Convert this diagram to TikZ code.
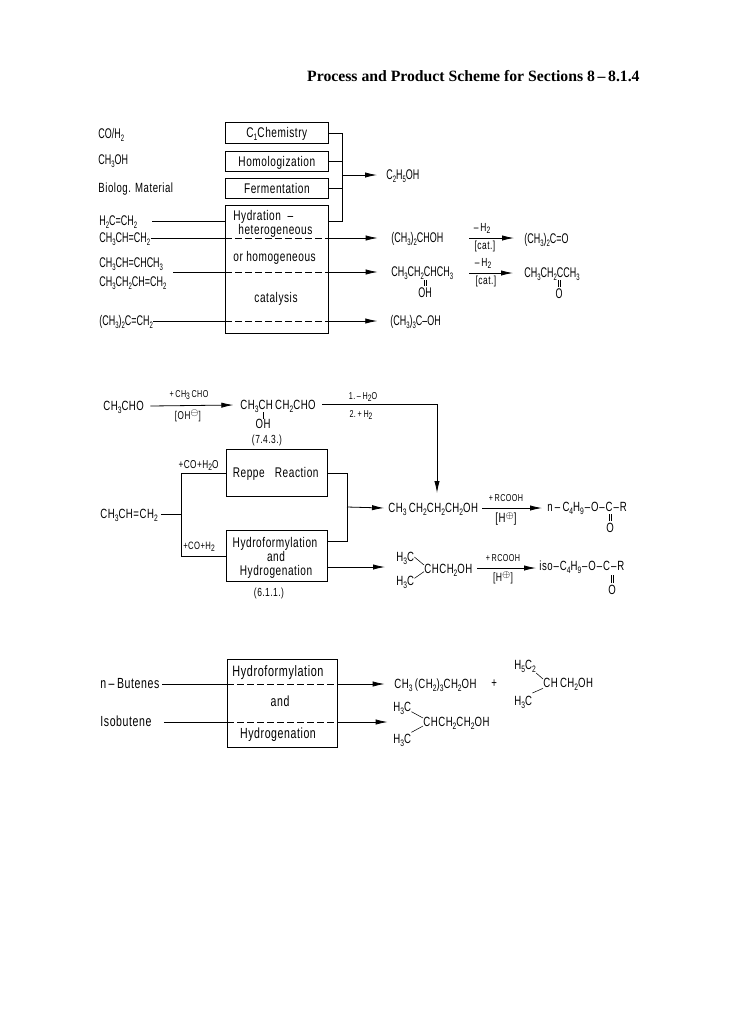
\documentclass[tikz,border=0pt]{standalone}
\usepackage{fontspec}
\setmainfont[FakeStretch=0.72,LetterSpace=4]{Liberation Sans}
\newfontfamily\tightfont[FakeStretch=0.64]{Liberation Sans}
\newfontfamily\headfont{Liberation Serif}
\usetikzlibrary{arrows.meta}
\newcommand{\dn}[1]{\raisebox{-1.8pt}{\fontsize{7}{7}\selectfont #1}}
\newcommand{\up}[1]{\raisebox{2.6pt}{\fontsize{7}{7}\selectfont #1}}
\newcommand{\bd}{\kern.7pt–\kern.7pt}
\newcommand{\dblbond}[2]{\draw[bond] ([xshift=-.8pt,yshift=1.2pt]#1) -- ([xshift=-.8pt]#2); \draw[bond] ([xshift=.8pt,yshift=1.2pt]#1) -- ([xshift=.8pt]#2);}
\tikzset{every picture/.style={x=0.75pt,y=-0.75pt,line width=0.6pt},
    procbox/.style={draw, thick, minimum width=77pt, inner sep=0pt, anchor=north west},
    chem/.style={inner sep=0pt, anchor=west, text height=7.2pt, text depth=0pt, font=\fontsize{10}{10}\selectfont},
    chemtight/.style={chem, font=\tightfont\fontsize{10.5}{10.5}\selectfont},
    chemlarge/.style={chem, font=\fontsize{11}{11}\selectfont},
    lbl/.style={inner sep=0pt, text height=5pt, text depth=0pt, font=\fontsize{7.5}{7.5}\selectfont},
    lbllarge/.style={lbl, font=\fontsize{8.8}{8.8}\selectfont},
    boxtext/.style={inner sep=0pt, text height=7.2pt, text depth=0pt, font=\fontsize{10.5}{10.5}\selectfont},
    flow/.style={-{Latex[length=9pt,width=4pt]}},
    passing/.style={dashed, dash pattern=on 5pt off 2.5pt},
    bond/.style={line width=0.4pt}}

\begin{document}
\begin{tikzpicture}
    \useasboundingbox (0,0) rectangle (729,1026);
    \node[anchor=east, inner sep=0pt, font=\headfont\bfseries\fontsize{11.8}{11.8}\selectfont] (heading) at (640,76) {Process and Product Scheme for Sections 8\,–\,8.1.4};

    % Ethanol from the four processes
    \begin{scope}
        \node[procbox, minimum height=15.75pt] (cone) at (225,122) {};
        \node[procbox, minimum height=15pt] (homol) at (225,151) {};
        \node[procbox, minimum height=15pt] (ferm) at (225,178) {};
        \node[procbox, minimum height=96pt] (hydra) at (225,205) {};
        \node[boxtext] (conetext) at (cone) {C\dn{1}Chemistry};
        \node[boxtext] (homoltext) at (homol) {Homologization};
        \node[boxtext] (fermtext) at (ferm) {Fermentation};
        \node[boxtext, anchor=west] (hydraa) at (233,216) {Hydration\ \ –};
        \node[boxtext, anchor=west] (hydrab) at (238,230) {heterogeneous};
        \node[boxtext, anchor=west] (hydrac) at (233,257) {or homogeneous};
        \node[boxtext] (hydrad) at (276,298) {catalysis};

        \node[chemtight] (syngas) at (98,134) {CO/H\dn{2}};
        \node[chemtight] (methanol) at (98,160) {CH\dn{3}OH};
        \node[chem] (biolog) at (98,188) {Biolog. Material};
        \node[chemtight] (ethene) at (99,221) {H\dn{2}C=CH\dn{2}};
        \node[chemtight] (propene) at (99,238) {CH\dn{3}CH=CH\dn{2}};
        \node[chemtight] (buteneb) at (99,263) {CH\dn{3}CH=CHCH\dn{3}};
        \node[chemtight] (butenea) at (99,282) {CH\dn{3}CH\dn{2}CH=CH\dn{2}};
        \node[chemtight] (isobut) at (99,321) {(CH\dn{3})\dn{2}C=CH\dn{2}};

        \coordinate (join) at (342,175);
        \coordinate (feeda) at (152,221);
        \coordinate (feedb) at (173,272);
        \coordinate (ethanolin) at (377,175);
        \node[chemtight] (ethanol) at (386,175) {C\dn{2}H\dn{5}OH};
        \draw (cone.east) -- (join |- cone.east) -- (join |- 0,221) -- (hydra.east |- 0,221);
        \draw (homol.east) -- (join |- homol.east);
        \draw (ferm.east) -- (join |- ferm.east);
        \draw[flow] (join) -- (ethanolin);
        \draw (feeda) -- (hydra.west |- feeda);

        % Passing through the hydration box
        \node[chemtight] (ipa) at (391,238) {(CH\dn{3})\dn{2}CHOH};
        \node[chemtight] (sba) at (391,272) {CH\dn{3}CH\dn{2}CHCH\dn{3}};
        \node[chemtight] (tba) at (390,321) {(CH\dn{3})\dn{3}C–OH};
        \draw (propene.east) -- (hydra.west |- propene.east);
        \draw[passing] (hydra.west |- propene.east) -- (hydra.east |- propene.east);
        \draw[flow] (hydra.east |- propene.east) -- ([xshift=-10pt]ipa.west);
        \draw (feedb) -- (hydra.west |- feedb);
        \draw[passing] (hydra.west |- feedb) -- (hydra.east |- feedb);
        \draw[flow] (hydra.east |- feedb) -- ([xshift=-10pt]sba.west);
        \draw (isobut.east) -- (hydra.west |- isobut.east);
        \draw[passing] (hydra.west |- isobut.east) -- (hydra.east |- isobut.east);
        \draw[flow] (hydra.east |- isobut.east) -- ([xshift=-9.5pt]tba.west);

        \node[chemtight] (acetone) at (524,239) {(CH\dn{3})\dn{2}C=O};
        \node[chemtight] (mek) at (524,273) {CH\dn{3}CH\dn{2}CCH\dn{3}};
        \coordinate (arrowaa) at (469,238);
        \coordinate (arrowab) at (514,238);
        \coordinate (arrowba) at (469,273);
        \coordinate (arrowbb) at (513,273);
        \draw[flow] (arrowaa) -- (arrowab);
        \draw[flow] (arrowba) -- (arrowbb);
        \node[lbllarge] (minusa) at (482,228) {–\,H\dn{2}};
        \node[lbllarge] (cata) at (485,246) {[cat.]};
        \node[lbllarge] (minusb) at (483,263) {–\,H\dn{2}};
        \node[lbllarge] (catb) at (486,281) {[cat.]};
        \node[chemtight, anchor=center] (sbaoh) at (425,293) {OH};
        \node[chemtight, anchor=center] (mekoxo) at (559,294) {O};
        \coordinate (sbac) at (425,280);
        \coordinate (mekc) at (559,280);
        \dblbond{sbaoh.north}{sbac}
        \dblbond{mekoxo.north}{mekc}
    \end{scope}

    % Butanol from propene and acetaldehyde
    \begin{scope}
        \node[chem] (acetald) at (103,406) {CH\dn{3}CHO};
        \node[chem] (aldol) at (240,405) {CH\dn{3}CH\,CH\dn{2}CHO};
        \node[chem, anchor=center] (aldoloh) at (263,424) {OH};
        \coordinate (aldolc) at (263,412);
        \draw[bond] (aldoloh.north) -- (aldolc);
        \node[lbl] (plusald) at (189,394) {+\,CH\dn{3}\,CHO};
        \node[lbl, font=\fontsize{8.5}{8.5}\selectfont] (ohminus) at (188,416) {[OH\up{$\ominus$}]};
        \draw[flow] ([xshift=4.5pt]acetald.east) -- ([xshift=-5pt]aldol.west);
        \node[lbllarge] (refaldol) at (267,440) {(7.4.3.)};
        \node[lbl] (stepa) at (363,396) {1.\,–\,H\dn{2}O};
        \node[lbl] (stepb) at (361,414) {2.\,+\,H\dn{2}};

        \node[procbox, minimum width=75.75pt, minimum height=35.25pt] (reppe) at (226,449) {};
        \node[procbox, minimum width=75.75pt, minimum height=38.25pt] (hyfo) at (226,530) {};
        \node[boxtext, xshift=-1pt] (reppetext) at (reppe) {Reppe\ \ \ Reaction};
        \node[boxtext] (hyfoa) at (275,543) {Hydroformylation};
        \node[boxtext] (hyfob) at (276,557) {and};
        \node[boxtext] (hyfoc) at (276,571) {Hydrogenation};
        \node[lbllarge] (refhyfo) at (269,593) {(6.1.1.)};

        \node[chem] (propenb) at (100,514) {CH\dn{3}CH=CH\dn{2}};
        \coordinate (split) at (181,514);
        \coordinate (splitup) at (181,473);
        \coordinate (splitdown) at (181,556);
        \coordinate (unite) at (347,507);
        \draw ([xshift=2pt]propenb.east) -- (split);
        \draw (splitup) -- (splitdown);
        \draw (splitup) -- (reppe.west |- splitup);
        \draw (splitdown) -- (hyfo.west |- splitdown);
        \node[lbl, font=\fontsize{8.6}{8.6}\selectfont] (plusa) at (198.5,465) {+CO+H\dn{2}O};
        \node[lbl, font=\fontsize{8}{8}\selectfont] (plusb) at (199,546) {+CO+H\dn{2}};
        \draw (reppe.east |- splitup) -- (unite |- splitup) -- (unite |- 0,541) -- (hyfo.east |- 0,541);

        \node[chem] (butanol) at (388,508) {CH\dn{3}\,CH\dn{2}CH\dn{2}CH\dn{2}OH};
        \node[chem] (nester) at (547,507) {n\,–\,C\dn{4}H\dn{9}\bd O\bd C\bd R};
        \node[chem, anchor=center] (noxo) at (610,528) {O};
        \coordinate (nc) at (610,514);
        \dblbond{noxo.north}{nc}
        \draw[flow] (unite) -- ([xshift=-3pt]butanol.west);
        \coordinate (aldolline) at (322,404);
        \coordinate (downline) at (437,404);
        \coordinate (downend) at (437,493);
        \draw[flow] (aldolline) -- (downline) -- (downend);
        \coordinate (esteraa) at (482,508);
        \coordinate (esterab) at (542,508);
        \draw[flow] (esteraa) -- (esterab);
        \node[lbl] (acida) at (506,498) {+\,RCOOH};
        \node[lbl, font=\fontsize{10}{10}\selectfont] (hpa) at (506,519) {[H\up{$\oplus$}]};

        \node[chem] (hthreea) at (396,557) {H\dn{3}C};
        \node[chem] (hthreeb) at (396,581) {H\dn{3}C};
        \node[chem] (isobutanol) at (424,569) {CHCH\dn{2}OH};
        \draw[bond] (hthreea.east) -- ([yshift=3pt]isobutanol.west);
        \draw[bond] ([yshift=2pt]hthreeb.east) -- ([yshift=-2pt]isobutanol.west);
        \draw[flow] (hyfo.east |- 0,567) -- (385,567);
        \coordinate (esterba) at (477,568);
        \coordinate (esterbb) at (536,568);
        \draw[flow] (esterba) -- (esterbb);
        \node[lbl] (acidb) at (503,558) {+\,RCOOH};
        \node[lbl, font=\fontsize{9}{9}\selectfont] (hpb) at (503,578) {[H\up{$\oplus$}]};
        \node[chem] (isoester) at (539,566) {iso\bd C\dn{4}H\dn{9}\bd O\bd C\bd R};
        \node[chem, anchor=center] (isooxo) at (612,590) {O};
        \coordinate (isoc) at (612,575);
        \dblbond{isooxo.north}{isoc}
    \end{scope}

    % Alcohols from butenes
    \begin{scope}
        \node[procbox, minimum width=82.5pt, minimum height=66pt] (oxo) at (227,659) {};
        \node[boxtext, font=\fontsize{11.3}{11.3}\selectfont] (oxoa) at (278,672) {Hydroformylation};
        \node[boxtext, font=\fontsize{11}{11}\selectfont] (oxob) at (280,702) {and};
        \node[boxtext, font=\fontsize{11}{11}\selectfont] (oxoc) at (278,734) {Hydrogenation};

        \node[chemlarge] (nbut) at (100,684) {n\,–\,Butenes};
        \node[chemlarge] (ibut) at (100,722) {Isobutene};
        \node[chem] (pentanol) at (394,684) {CH\dn{3}\,(CH\dn{2})\dn{3}CH\dn{2}OH};
        \node[chem] (plussign) at (491,683) {+};
        \node[chem] (hfive) at (514,665) {H\dn{5}C\dn{2}};
        \node[chem] (hthreec) at (514,701) {H\dn{3}C};
        \node[chem] (mbutanol) at (543,683) {CH\,CH\dn{2}OH};
        \node[chem] (hthreed) at (393,707) {H\dn{3}C};
        \node[chem] (hthreee) at (393,739) {H\dn{3}C};
        \node[chem] (imbutanol) at (423,722) {CHCH\dn{2}CH\dn{2}OH};
        \draw[bond] ([yshift=-6pt]hfive.east) -- ([yshift=3pt]mbutanol.west);
        \draw[bond] ([yshift=6pt]hthreec.east) -- ([yshift=-4pt]mbutanol.west);
        \draw[bond] ([yshift=-3.5pt]hthreed.east) -- ([yshift=3pt]imbutanol.west);
        \draw[bond] ([yshift=5pt]hthreee.east) -- ([yshift=-3pt]imbutanol.west);

        \draw ([xshift=2pt]nbut.east) -- (oxo.west |- nbut.east);
        \draw[passing] (oxo.west |- nbut.east) -- (oxo.east |- nbut.east);
        \draw[flow] (oxo.east |- nbut.east) -- ([xshift=-7pt]pentanol.west);
        \draw ([xshift=9pt]ibut.east) -- (oxo.west |- ibut.east);
        \draw[passing] (oxo.west |- ibut.east) -- (oxo.east |- ibut.east);
        \draw[flow] (oxo.east |- ibut.east) -- ([xshift=-4pt]imbutanol.west -| hthreed.west);
    \end{scope}
\end{tikzpicture}
\end{document}
